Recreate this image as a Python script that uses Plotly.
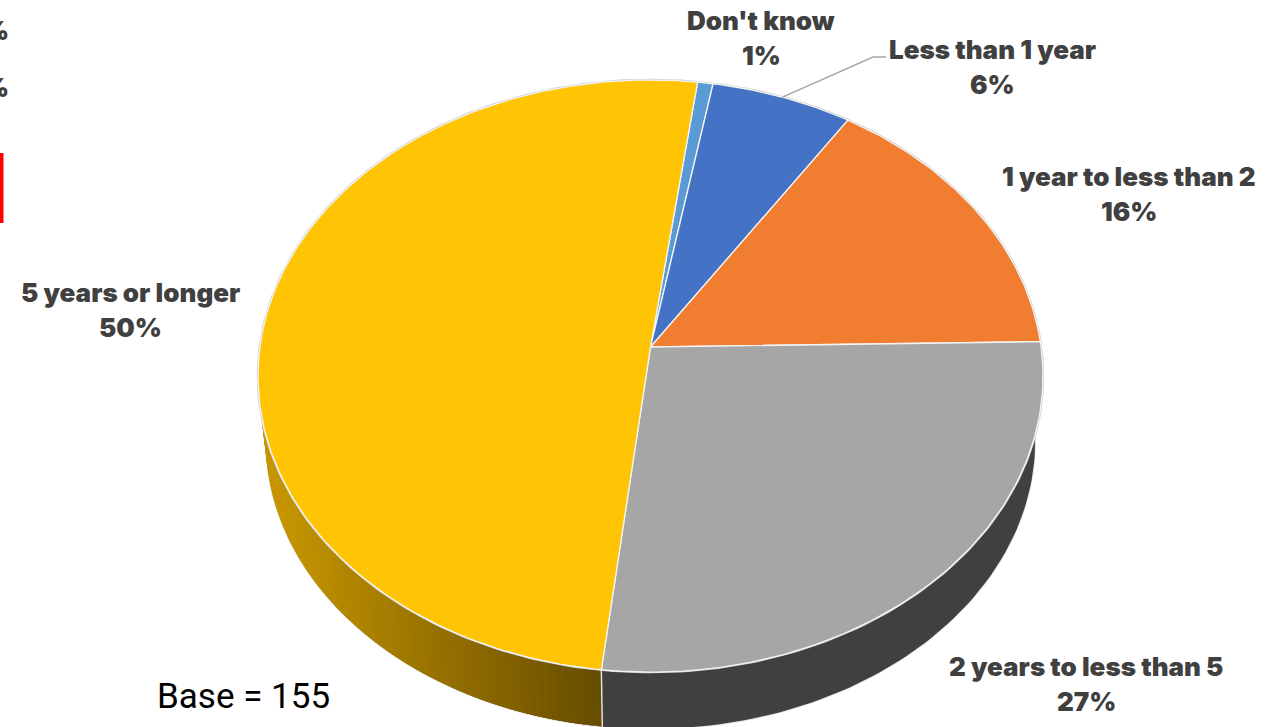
import math
import plotly.graph_objects as go

# ---- data ----
categories = ["Don't know", "Less than 1 year", "1 year to less than 2", "2 years to less than 5", "5 years or longer"]
values = [0.7, 6.4, 15.5, 27.1, 50.3]
percent_labels = ["1%", "6%", "16%", "27%", "50%"]
colors = ["#5B9BD5", "#4472C4", "#F07D30", "#A6A6A6", "#FFC403"]
base_note = "Base = 155"
start_angle = 7.6   # clockwise from the top, where the first slice starts

# ---- layout of the tilted disc ----
W, H = 1288, 727
TOP = dict(cx=650.5, cy=347, a=293.2, b=390.6)
BOT = dict(cx=650.5, cy=413, a=285.0, b=382.8)
K = 0.098
TEXT = "#404040"
LABEL_FONT = dict(family="Inter", size=26, color=TEXT, weight=900)


def rim(deg, d, r=1.0):
    t = math.radians(deg)
    u, v = r * math.sin(t), r * math.cos(t)
    w = 1 + K * v
    return d["cx"] + d["b"] * u / w, d["cy"] - d["a"] * v / w


def arange(a0, a1, n):
    return [a0 + (a1 - a0) * i / n for i in range(n + 1)]


def mix(c0, c1, f):
    f = min(max(f, 0), 1)
    return "rgb({},{},{})".format(*[round(p + (q - p) * f) for p, q in zip(c0, c1)])


bounds = [start_angle]
for v in values:
    bounds.append(bounds[-1] + v * 3.6)

fig = go.Figure()


def poly(pts, fill, line=None, width=0.0):
    fig.add_trace(go.Scatter(x=[p[0] for p in pts], y=[p[1] for p in pts], mode="lines", fill="toself",
                             fillcolor=fill, line=dict(color=line or fill, width=width),
                             hoverinfo="skip", showlegend=False))


split = bounds[4]
# faint outline below the wall
outer = arange(88, 272, 240)
fig.add_trace(go.Scatter(x=[rim(t, BOT)[0] for t in outer], y=[rim(t, BOT)[1] for t in outer], mode="lines",
                         line=dict(color="#DEDEDE", width=1.6), hoverinfo="skip", showlegend=False))
# grey slice wall in one piece
grey = arange(90, split, 80)
poly([rim(t, TOP) for t in grey] + [rim(t, BOT) for t in reversed(grey)], "#404040")
# yellow slice wall, shaded by strips that overlap the previous strip
steps = arange(split, 272, 70)
for p, q in zip(steps[:-1], steps[1:]):
    q2 = min(q + 3 * (q - p), 272)
    f = (rim(p, BOT)[0] - 600) / (285 - 600)
    poly([rim(p, TOP), rim(q2, TOP), rim(q2, BOT), rim(p, BOT)], mix((104, 78, 0), (198, 149, 0), f))
ws, we = rim(split, TOP), rim(split, BOT)
fig.add_trace(go.Scatter(x=[ws[0], we[0]], y=[ws[1], we[1]], mode="lines",
                         line=dict(color="#E8E8E8", width=1.4), hoverinfo="skip", showlegend=False))

# faint halo round the top face
ring = arange(0, 360, 360)
fig.add_trace(go.Scatter(x=[rim(t, TOP)[0] for t in ring], y=[rim(t, TOP)[1] for t in ring], mode="lines",
                         line=dict(color="#CFCFCF", width=2.6), hoverinfo="skip", showlegend=False))

# top face
for i, col in enumerate(colors):
    arc = arange(bounds[i], bounds[i + 1], max(6, int(values[i] * 4)))
    pts = [(TOP["cx"], TOP["cy"])] + [rim(t, TOP) for t in arc] + [(TOP["cx"], TOP["cy"])]
    poly(pts, col, "#F4F4F4", 1.3)

# leader line to the "Less than 1 year" label
lead = rim((bounds[1] + bounds[2]) / 2, TOP)
fig.add_trace(go.Scatter(x=[lead[0], 873, 886], y=[lead[1], 57, 57], mode="lines",
                         line=dict(color="#A6A6A6", width=1.4), hoverinfo="skip", showlegend=False))

label_pos = [(761, 20), (992, 49), (1129, 176), (1086, 666), (130, 292)]
LINE_GAP = 35
annotations = []
for c, p, (x, y) in zip(categories, percent_labels, label_pos):
    for text, yy in ((c, y), (p, y + LINE_GAP)):
        annotations.append(dict(x=x, y=yy, xref="x", yref="y", text=text, showarrow=False, font=LABEL_FONT))
annotations.append(dict(x=243.5, y=696, xref="x", yref="y", text=base_note, showarrow=False,
                        font=dict(family="Roboto", size=35, color="#000000")))
# fragments of neighbouring text cut off by the left edge
for x, y, col in [(11, 30, TEXT), (11, 87, TEXT), (3, 139, TEXT), (3, 700, "#808080")]:
    annotations.append(dict(x=x, y=y, xref="x", yref="y", text="%", showarrow=False, xanchor="right",
                            font=dict(family="Inter", size=26, color=col, weight=900)))

fig.update_layout(
    width=W, height=H, margin=dict(l=0, r=0, t=0, b=0), paper_bgcolor="white", plot_bgcolor="white",
    showlegend=False, annotations=annotations,
    xaxis=dict(range=[0, W], visible=False, fixedrange=True),
    yaxis=dict(range=[H, 0], visible=False, fixedrange=True),
    shapes=[dict(type="rect", xref="x", yref="y", x0=0, x1=3.5, y0=153, y1=223, fillcolor="#FF0000", line_width=0)],
)
fig.write_html("out.html", config=dict(displayModeBar=False),
               post_script="document.body.style.margin='0';document.body.style.overflow='hidden';")
